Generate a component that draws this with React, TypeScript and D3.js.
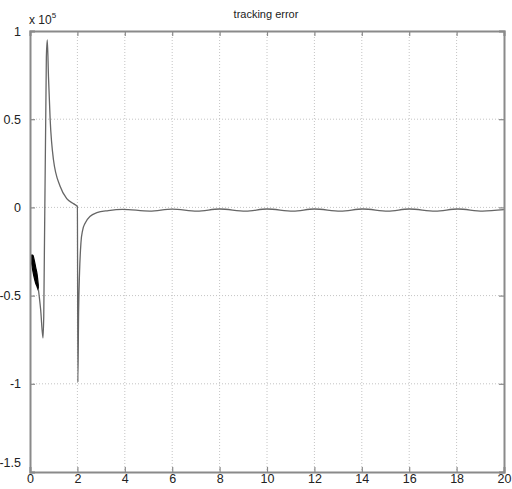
import React, { useEffect, useRef } from 'react'
import * as d3 from 'd3'

// tracking error trace (x in seconds, y in units of 1e5)
const timeValues = [
  0.35, 0.45, 0.55, 0.58, 0.69, 0.73, 0.78, 0.85, 0.99, 1.27, 1.55, 1.85, 2.0,
  2.02, 2.05, 2.09, 2.15, 2.22, 2.33, 2.54, 2.82, 3.3, 3.9, 5.05, 6.0, 7.05,
  8.0, 9.1, 10.0, 11.1, 12.0, 13.1, 14.05, 15.1, 16.0, 17.1, 18.05, 19.1, 20.0,
]
const errorValues = [
  -0.46, -0.58, -0.74, -0.62, 0.85, 0.95, 0.74, 0.5, 0.27, 0.12, 0.05, 0.02,
  0.004, -0.99, -0.6, -0.37, -0.2, -0.13, -0.088, -0.05, -0.03, -0.018, -0.011,
  -0.021, -0.01, -0.021, -0.009, -0.021, -0.009, -0.021, -0.009, -0.021, -0.009,
  -0.021, -0.009, -0.021, -0.009, -0.021, -0.013,
]

// the dense chattering at the start, drawn as a filled band
const blobTime = [0.06, 0.12, 0.18, 0.24, 0.3, 0.35]
const blobUpper = [-0.27, -0.27, -0.3, -0.34, -0.38, -0.44]
const blobLower = [-0.31, -0.36, -0.4, -0.43, -0.45, -0.47]

const xTicks = [0, 2, 4, 6, 8, 10, 12, 14, 16, 18, 20]
const yTicks = [1, 0.5, 0, -0.5, -1, -1.5]

export default function App() {
  const ref = useRef<SVGSVGElement>(null)

  useEffect(() => {
    const svg = d3.select(ref.current)
    svg.selectAll('*').remove()

    const left = 30, right = 504, top = 31, bottom = 472
    const x = d3.scaleLinear().domain([0, 20]).range([left, right])
    const y = d3.scaleLinear().domain([-1.5, 1]).range([bottom, top])
    const font = 'Liberation Sans, Arial, sans-serif'
    const frameColor = '#8a8a8a'

    svg.append('rect')
      .attr('width', 512).attr('height', 489).attr('fill', '#fff')

    // grid
    const grid = svg.append('g')
      .attr('stroke', '#c4c4c4').attr('stroke-width', 1)
      .attr('stroke-dasharray', '1,2')
    grid.selectAll('line.gx')
      .data(xTicks.slice(1, -1)).enter().append('line')
      .attr('x1', d => x(d)).attr('x2', d => x(d))
      .attr('y1', top).attr('y2', bottom)
    grid.selectAll('line.gy')
      .data(yTicks.slice(1, -1)).enter().append('line')
      .attr('y1', d => y(d)).attr('y2', d => y(d))
      .attr('x1', left).attr('x2', right)

    // data
    const blobArea = d3.area<number>()
      .x((_, i) => x(blobTime[i]))
      .y0((_, i) => y(blobUpper[i]))
      .y1((_, i) => y(blobLower[i]))
      .curve(d3.curveMonotoneX)
    svg.append('path')
      .datum(blobTime)
      .attr('d', blobArea)
      .attr('fill', '#000')
      .attr('stroke', '#000').attr('stroke-width', 1.2)

    const line = d3.line<number>()
      .x((_, i) => x(timeValues[i]))
      .y((_, i) => y(errorValues[i]))
      .curve(d3.curveMonotoneX)
    svg.append('path')
      .datum(timeValues)
      .attr('d', line)
      .attr('fill', 'none')
      .attr('stroke', '#666')
      .attr('stroke-width', 1.3)

    // axes with inward ticks, on all sides like a boxed plot
    const axisB = svg.append('g').attr('transform', `translate(0,${bottom})`)
      .call(d3.axisBottom(x).tickValues(xTicks).tickSize(-5).tickPadding(9).tickFormat(d3.format('d')))
    const axisT = svg.append('g').attr('transform', `translate(0,${top})`)
      .call(d3.axisTop(x).tickValues(xTicks).tickSize(-5).tickFormat(() => ''))
    const axisL = svg.append('g').attr('transform', `translate(${left},0)`)
      .call(d3.axisLeft(y).tickValues(yTicks).tickSize(-5).tickPadding(9).tickFormat(d => String(d)))
    const axisR = svg.append('g').attr('transform', `translate(${right},0)`)
      .call(d3.axisRight(y).tickValues(yTicks).tickSize(-5).tickFormat(() => ''))

    for (const a of [axisB, axisT, axisL, axisR]) {
      a.select('.domain').attr('stroke', frameColor).attr('stroke-width', 2)
      a.selectAll('.tick line').attr('stroke', frameColor).attr('stroke-width', 1.2)
      a.selectAll('text')
        .attr('font-family', font).attr('font-size', 12.5).attr('fill', '#222')
    }
    axisB.selectAll('text').attr('dy', '0.15em')
    axisL.selectAll('.tick')
      .filter(d => d === -1.5)
      .select('text').attr('dy', '-0.45em')

    // exponent label
    const expo = svg.append('text')
      .attr('x', 29).attr('y', 24)
      .attr('font-family', font).attr('font-size', 12).attr('fill', '#222')
    expo.append('tspan').text('x 10')
    expo.append('tspan').attr('dy', -6).attr('font-size', 8).text('5')

    svg.append('text')
      .attr('x', 266).attr('y', 18)
      .attr('text-anchor', 'middle')
      .attr('font-family', font).attr('font-size', 11).attr('fill', '#222')
      .text('tracking error')
  }, [])

  return (
    <svg ref={ref} width={512} height={489}
      style={{ position: 'absolute', left: 0, top: 0, display: 'block' }} />
  )
}
